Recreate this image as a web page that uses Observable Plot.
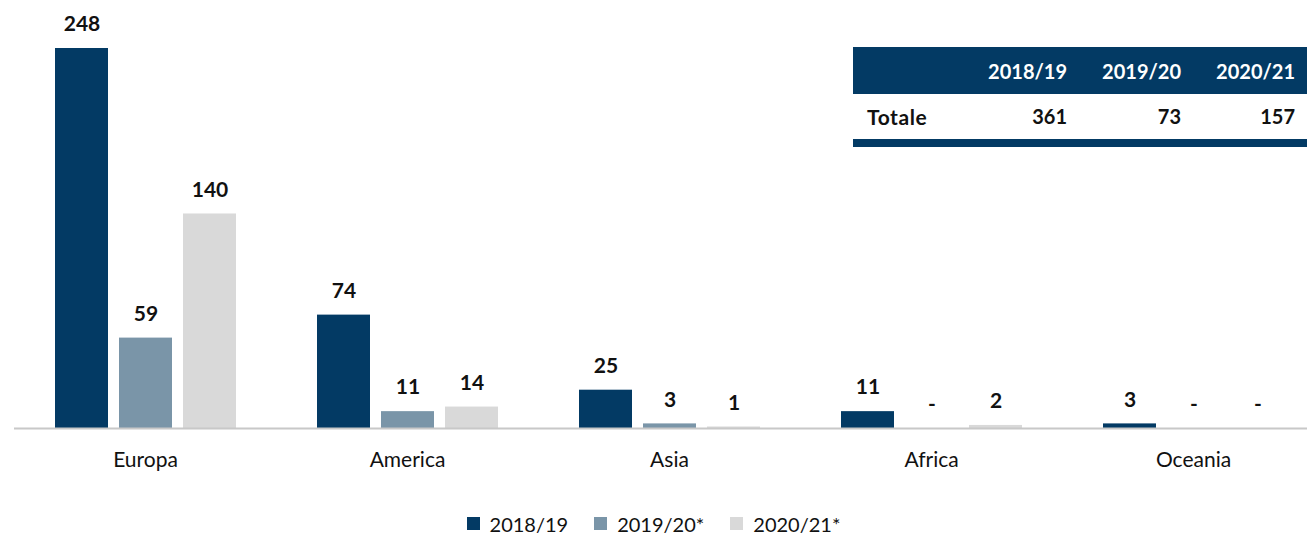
<!DOCTYPE html>
<html>
<head>
<meta charset="utf-8">
<script src="https://cdn.jsdelivr.net/npm/d3@7"></script>
<script src="https://cdn.jsdelivr.net/npm/@observablehq/plot@0.6"></script>
<style>
  html, body { margin: 0; padding: 0; background: #fff; }
  body { width: 1307px; height: 533px; position: relative; overflow: hidden;
         font-family: "Source Sans Pro", Lato, "Open Sans", sans-serif; color: #111; }
  #chart { position: absolute; left: 0; top: 0; }
  #tbl { position: absolute; left: 853px; top: 47px; width: 454px; }
  #tbl .head { background: #033a64; height: 47px; position: relative; }
  #tbl .row { height: 45px; position: relative; border-bottom: 8px solid #033a64; }
  #tbl span { position: absolute; font-weight: 700; font-size: 20px; line-height: 1; }
  #legend { position: absolute; left: 0; top: 510px; width: 1307px; text-align: center; font-size: 20px; }
  #legend .item { display: inline-flex; align-items: center; margin: 0 13px; }
  #legend .sw { width: 13px; height: 13px; display: inline-block; margin-right: 10px; }
</style>
</head>
<body>
<div id="chart"></div>
<div id="tbl"></div>
<div id="legend"></div>
<script>
const continents = ["Europa", "America", "Asia", "Africa", "Oceania"];
const seasons = ["2018/19", "2019/20*", "2020/21*"];
const values2018 = [248, 74, 25, 11, 3];
const values2019 = [59, 11, 3, 0, 0];
const values2020 = [140, 14, 1, 2, 0];
const tableHeaders = ["2018/19", "2019/20", "2020/21"];
const tableRowLabel = "Totale";
const totals = [361, 73, 157];
const colors = ["#033a64", "#7a95a8", "#d9d9d9"];

const series = [values2018, values2019, values2020];
const data = continents.flatMap((c, i) =>
  seasons.map((s, j) => ({continent: c, season: s, value: series[j][i]}))
);

const chart = Plot.plot({
  width: 1307,
  height: 500,
  marginLeft: 13,
  marginRight: -18,
  marginTop: 48,
  marginBottom: 72,
  style: {fontFamily: '"Source Sans Pro", Lato, "Open Sans", sans-serif', fontSize: "18px", color: "#111"},
  fx: {domain: continents, padding: 0, label: null, axis: null},
  x: {domain: seasons, paddingInner: 0.172, paddingOuter: 0.629, axis: null},
  y: {domain: [0, 248], axis: null},
  color: {domain: seasons, range: colors},
  marks: [
    Plot.axisFx({anchor: "bottom", tickSize: 0, tickPadding: 24, fontSize: 21, label: null, fill: "#111"}),
    Plot.barY(data, {fx: "continent", x: "season", y: "value", fill: "season"}),
    Plot.ruleY([0], {stroke: "#c8c8c8", strokeWidth: 2}),
    Plot.text(data, {
      fx: "continent", x: "season", y: "value",
      text: d => d.value === 0 ? "-" : String(d.value),
      dy: -24, fontWeight: "bold", fontSize: 21, fill: "#111"
    })
  ]
});
document.getElementById("chart").appendChild(chart);

// Table
const tbl = document.getElementById("tbl");
const rights = [240, 126, 12];
const head = document.createElement("div"); head.className = "head";
tableHeaders.forEach((h, i) => {
  const s = document.createElement("span");
  s.textContent = h; s.style.color = "#fff"; s.style.right = rights[i] + "px"; s.style.top = "14px";
  head.appendChild(s);
});
tbl.appendChild(head);
const row = document.createElement("div"); row.className = "row";
const lab = document.createElement("span");
lab.textContent = tableRowLabel; lab.style.left = "14px"; lab.style.top = "12px";
lab.style.fontSize = "21px"; lab.style.letterSpacing = "0.6px";
row.appendChild(lab);
totals.forEach((t, i) => {
  const s = document.createElement("span");
  s.textContent = t; s.style.right = rights[i] + "px"; s.style.top = "12px";
  row.appendChild(s);
});
tbl.appendChild(row);

// Legend
const legend = document.getElementById("legend");
seasons.forEach((s, i) => {
  const it = document.createElement("span"); it.className = "item";
  const sw = document.createElement("span"); sw.className = "sw"; sw.style.background = colors[i];
  const tx = document.createElement("span"); tx.textContent = s;
  it.appendChild(sw); it.appendChild(tx); legend.appendChild(it);
});
</script>
</body>
</html>
